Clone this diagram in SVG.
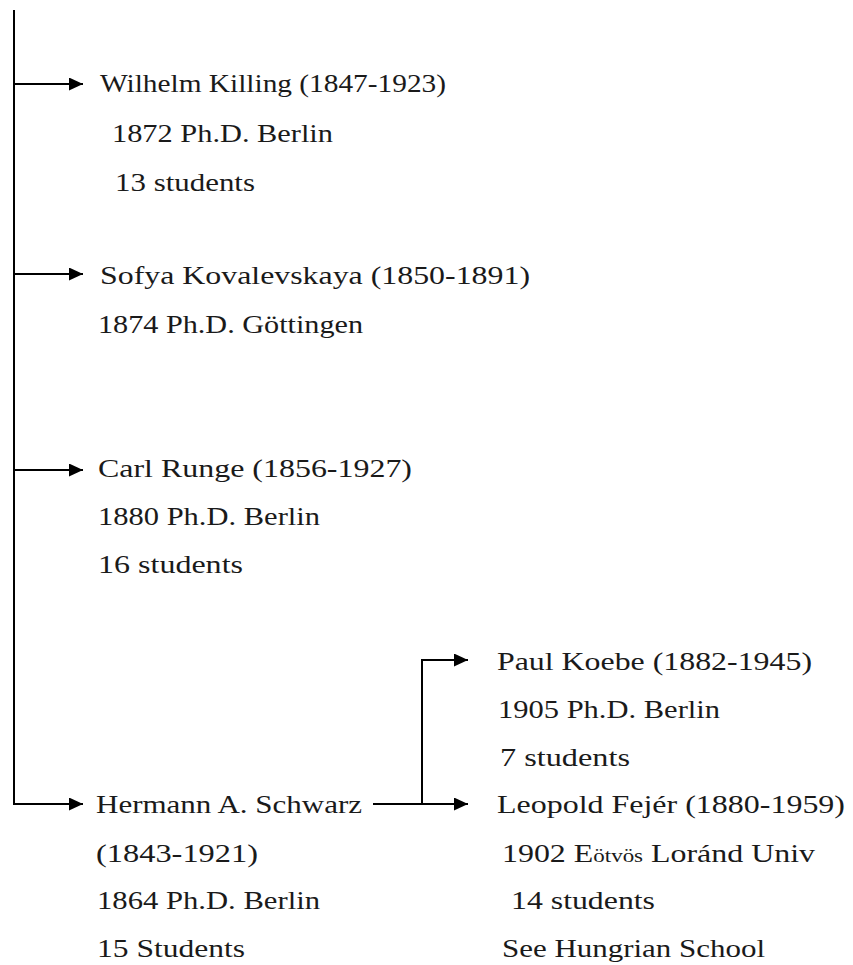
<svg xmlns="http://www.w3.org/2000/svg" width="853" height="965" viewBox="0 0 853 965">
<style>
text{font-family:"Liberation Serif","DejaVu Serif",serif;font-size:25px;fill:#1a1a1a}
.c{stroke:#000;stroke-width:2;fill:none}
.small{font-size:18px}
</style>
<defs>
<marker id="ah" viewBox="0 0 14 13" refX="14" refY="6.5" markerWidth="14" markerHeight="13" markerUnits="userSpaceOnUse" orient="auto">
<path d="M0,0 L14,6.5 L0,13 Z" fill="#000"/>
</marker>
</defs>
<rect width="853" height="965" fill="#fff"/>
<g id="connectors">
<path class="c" d="M14,10 V804"/>
<path class="c" d="M14,84 H83" marker-end="url(#ah)"/>
<path class="c" d="M14,274 H83" marker-end="url(#ah)"/>
<path class="c" d="M14,470 H83" marker-end="url(#ah)"/>
<path class="c" d="M13,804 H83" marker-end="url(#ah)"/>
<path class="c" d="M373,804 H468" marker-end="url(#ah)"/>
<path class="c" d="M422,804 V660 H468" marker-end="url(#ah)"/>
</g>
<g id="killing">
<text x="100" y="92" textLength="346" lengthAdjust="spacingAndGlyphs">Wilhelm Killing (1847-1923)</text>
<text x="112" y="142" textLength="221" lengthAdjust="spacingAndGlyphs">1872 Ph.D. Berlin</text>
<text x="115" y="191" textLength="140" lengthAdjust="spacingAndGlyphs">13 students</text>
</g>
<g id="kovalevskaya">
<text x="100" y="284" textLength="430" lengthAdjust="spacingAndGlyphs">Sofya Kovalevskaya (1850-1891)</text>
<text x="98" y="333" textLength="265" lengthAdjust="spacingAndGlyphs">1874 Ph.D. Göttingen</text>
</g>
<g id="runge">
<text x="98" y="477" textLength="314" lengthAdjust="spacingAndGlyphs">Carl Runge (1856-1927)</text>
<text x="98" y="525" textLength="222" lengthAdjust="spacingAndGlyphs">1880 Ph.D. Berlin</text>
<text x="98" y="573" textLength="145" lengthAdjust="spacingAndGlyphs">16 students</text>
</g>
<g id="schwarz">
<text x="96" y="813" textLength="266" lengthAdjust="spacingAndGlyphs">Hermann A. Schwarz</text>
<text x="96" y="862" textLength="162" lengthAdjust="spacingAndGlyphs">(1843-1921)</text>
<text x="97" y="909" textLength="223" lengthAdjust="spacingAndGlyphs">1864 Ph.D. Berlin</text>
<text x="97" y="957" textLength="148" lengthAdjust="spacingAndGlyphs">15 Students</text>
</g>
<g id="koebe">
<text x="497" y="670" textLength="315" lengthAdjust="spacingAndGlyphs">Paul Koebe (1882-1945)</text>
<text x="498" y="718" textLength="222" lengthAdjust="spacingAndGlyphs">1905 Ph.D. Berlin</text>
<text x="500" y="766" textLength="130" lengthAdjust="spacingAndGlyphs">7 students</text>
</g>
<g id="fejer">
<text x="497" y="813" textLength="348" lengthAdjust="spacingAndGlyphs">Leopold Fejér (1880-1959)</text>
<text x="502" y="862" textLength="313" lengthAdjust="spacingAndGlyphs">1902 E<tspan class="small">ötvös</tspan> Loránd Univ</text>
<text x="511" y="909" textLength="144" lengthAdjust="spacingAndGlyphs">14 students</text>
<text x="502" y="957" textLength="263" lengthAdjust="spacingAndGlyphs">See Hungrian School</text>
</g>
</svg>
